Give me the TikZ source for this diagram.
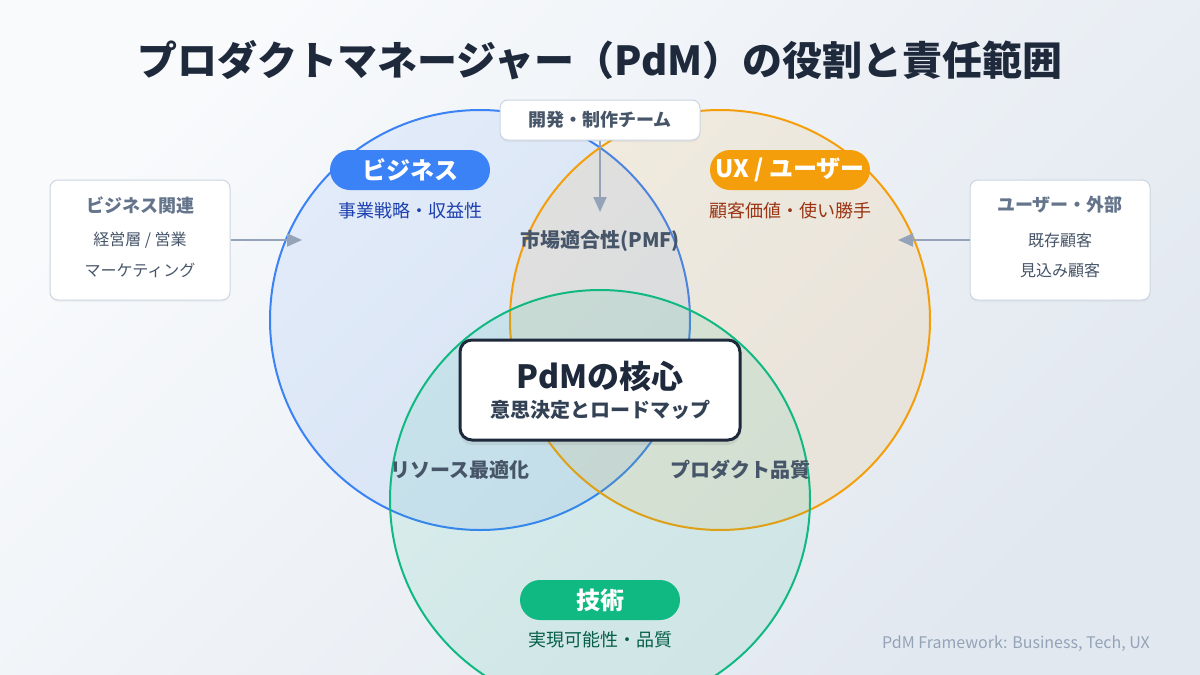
\documentclass[tikz,border=0pt]{standalone}
\usepackage{fontspec}
\setmainfont{Noto Sans CJK JP}
\usetikzlibrary{shadows,arrows.meta}
\definecolor{bgA}{HTML}{F8FAFC}
\definecolor{bgB}{HTML}{E2E8F0}
\definecolor{ink}{HTML}{1E293B}
\definecolor{slateA}{HTML}{334155}
\definecolor{slateB}{HTML}{475569}
\definecolor{slateC}{HTML}{64748B}
\definecolor{arrowc}{HTML}{94A3B8}
\definecolor{boxline}{HTML}{CBD5E1}
\definecolor{bizc}{HTML}{3B82F6}
\definecolor{bizt}{HTML}{1E40AF}
\definecolor{uxc}{HTML}{F59E0B}
\definecolor{uxt}{HTML}{9A3412}
\definecolor{techc}{HTML}{10B981}
\definecolor{techt}{HTML}{065F46}
\definecolor{footc}{HTML}{94A3B8}
\newcommand{\fsz}[1]{\fontsize{#1}{#1}\selectfont}
\begin{document}
\begin{tikzpicture}[x=1pt,y=-1pt,
  txt/.style={inner sep=0pt, anchor=center},
  venn/.style={line width=2pt, fill opacity=0.1},
  pill/.style={rounded corners=20pt, minimum width=160pt, minimum height=40pt, inner sep=0pt, text=white, font=\fsz{24}\bfseries},
  sidebox/.style={draw=boxline, line width=1pt, fill=white, rounded corners=8pt, minimum width=180pt, minimum height=120pt, inner sep=0pt},
  topbox/.style={draw=boxline, line width=1pt, fill=white, rounded corners=8pt, minimum width=200pt, minimum height=40pt, inner sep=0pt, text=slateB, font=\fsz{18}\bfseries,
     drop shadow={opacity=0.08, shadow xshift=0pt, shadow yshift=-2pt}},
  corebox/.style={draw=ink, line width=3pt, fill=white, rounded corners=12pt, minimum width=280pt, minimum height=100pt, inner sep=0pt,
     drop shadow={opacity=0.15, shadow xshift=0pt, shadow yshift=-5pt}},
  flow/.style={draw=arrowc, line width=2pt, -{Triangle[length=15pt,width=13pt]}},
  inter/.style={txt, text=slateB, font=\fsz{20}\bfseries},
]
\useasboundingbox (0,0) rectangle (1200,675);
\shade[top color=bgA, bottom color=bgB, shading angle=45] (0,0) rectangle (1200,675);

% title
\node[txt, text=ink, font=\fsz{40}\bfseries] (title) at (600,60) {プロダクトマネージャー（PdM）の役割と責任範囲};

% circles
\begin{scope}
\clip (0,0) rectangle (1200,675);
\draw[venn, draw=bizc, fill=bizc] (480,320) circle[radius=210];
\draw[venn, draw=uxc, fill=uxc] (720,320) circle[radius=210];
\draw[venn, draw=techc, fill=techc] (600,500) circle[radius=210];
\end{scope}

% pills and sub labels
\node[pill, fill=bizc] (biz) at (410,170) {ビジネス};
\node[txt, text=bizt, font=\fsz{18}] (bizsub) at (410,211) {事業戦略・収益性};
\node[pill, fill=uxc] (ux) at (790,170) {UX / ユーザー};
\node[txt, text=uxt, font=\fsz{18}] (uxsub) at (790,211) {顧客価値・使い勝手};
\node[pill, fill=techc] (tech) at (600,600) {技術};
\node[txt, text=techt, font=\fsz{18}] (techsub) at (600,640) {実現可能性・品質};

% intersections
\node[inter] (pmf) at (600,241) {市場適合性(PMF)};
\node[inter] (res) at (460,470) {リソース最適化};
\node[inter] (qual) at (740,470) {プロダクト品質};

% core
\node[corebox] (core) at (600,390) {};
\node[txt, text=ink, font=\fsz{32}\bfseries] (coret) at (600,376) {PdMの核心};
\node[txt, text=slateA, font=\fsz{20}\bfseries] (cores) at (600,410) {意思決定とロードマップ};

% top box
\node[topbox] (team) at (600,120) {開発・制作チーム};
\coordinate (teamtip) at (600,212);
\draw[flow] (team.south) -- (teamtip);

% left box
\node[sidebox, drop shadow={opacity=0.06, shadow xshift=0pt, shadow yshift=-2pt}] (lbox) at (140,240) {};
\node[txt, text=slateC, font=\fsz{18}\bfseries] (lt) at (140,205) {ビジネス関連};
\node[txt, text=slateB, font=\fsz{16}] (l1) at (140,240) {経営層 / 営業};
\node[txt, text=slateB, font=\fsz{16}] (l2) at (140,270) {マーケティング};
\coordinate (ltip) at (302,240);
\draw[flow] (lbox.east) -- (ltip);

% right box
\node[sidebox, drop shadow={opacity=0.06, shadow xshift=0pt, shadow yshift=-2pt}] (rbox) at (1060,240) {};
\node[txt, text=slateC, font=\fsz{18}\bfseries] (rt) at (1060,205) {ユーザー・外部};
\node[txt, text=slateB, font=\fsz{16}] (r1) at (1060,240) {既存顧客};
\node[txt, text=slateB, font=\fsz{16}] (r2) at (1060,270) {見込み顧客};
\coordinate (rtip) at (898,240);
\draw[flow] (rbox.west) -- (rtip);

% footer
\node[txt, anchor=east, text=footc, font=\fsz{16}] (foot) at (1150,644) {PdM Framework: Business, Tech, UX};
\end{tikzpicture}
\end{document}
